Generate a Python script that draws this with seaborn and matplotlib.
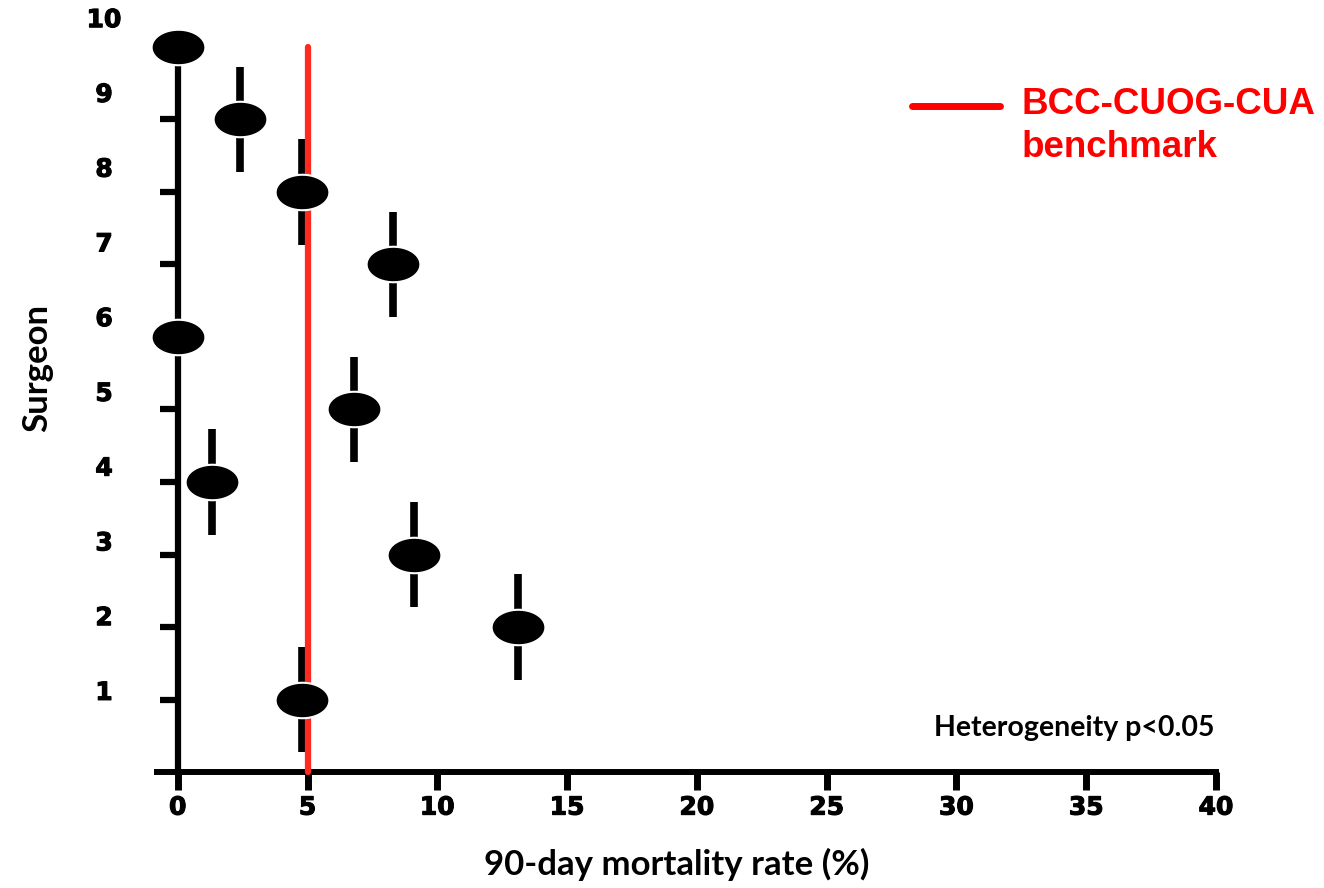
import numpy as np
import pandas as pd
import matplotlib
matplotlib.use("Agg")
import matplotlib.pyplot as plt
from matplotlib.path import Path
from matplotlib.lines import Line2D
import matplotlib.transforms as mtransforms
import matplotlib.patheffects as pe
import seaborn as sns

# Surgeon-level 90-day mortality with interval bars
surgeons = [10, 9, 8, 7, 6, 5, 4, 3, 2, 1]
mortality = [0.0, 2.4, 4.8, 8.3, 0.0, 6.8, 1.3, 9.1, 13.1, 4.8]
bar_half = [0.0, 0.73, 0.73, 0.73, 0.0, 0.73, 0.73, 0.73, 0.73, 0.73]
benchmark = 5.0
x_ticks = [0, 5, 10, 15, 20, 25, 30, 35, 40]
y_ticks = [1, 2, 3, 4, 5, 6, 7, 8, 9, 10]

df = pd.DataFrame({"surgeon": surgeons, "mortality": mortality, "half": bar_half})

sns.set_style("white")
plt.rcParams["font.family"] = ["DejaVu Sans"]
plt.rcParams["text.color"] = "black"
plt.rcParams["axes.labelcolor"] = "black"

fig = plt.figure(figsize=(13.24, 8.88), dpi=100)
ax = fig.add_axes([157 / 1324, 116 / 888, 1059 / 1324, 725 / 888])

# vertical interval bars behind the markers
ax.vlines(df["mortality"], df["surgeon"] - df["half"], df["surgeon"] + df["half"],
          colors="black", linewidth=5.5, capstyle="butt", zorder=2)

# benchmark line
ax.axvline(benchmark, ymin=0, ymax=1, color="#ff2a1f", linewidth=4.5,
           solid_capstyle="round", zorder=3, clip_on=False)

# wide elliptical markers
t = np.linspace(0, 2 * np.pi, 80)
ellipse = Path(np.column_stack([np.cos(t), 0.66 * np.sin(t)]), closed=True)
sns.scatterplot(data=df, x="mortality", y="surgeon", marker=ellipse, s=1500,
                color="black", edgecolor="white", linewidth=1.5, zorder=4,
                ax=ax, clip_on=False, legend=False)

ax.set_xlim(-0.8, 40)
ax.set_ylim(0, 10)

for side in ("top", "right"):
    ax.spines[side].set_visible(False)
ax.spines["left"].set_position(("data", 0))
ax.spines["left"].set_linewidth(4.5)
ax.spines["bottom"].set_linewidth(4.3)
ax.spines["left"].set_color("black")
ax.spines["bottom"].set_color("black")

heavy = [pe.withStroke(linewidth=0.8, foreground="black")]

ax.set_xticks(x_ticks)
ax.set_xticklabels([str(v) for v in x_ticks], fontsize=18, fontweight="bold",
                   family="DejaVu Sans", path_effects=heavy)
ax.tick_params(axis="x", bottom=True, direction="out", length=13, width=5,
               pad=4, colors="black")
ax.set_yticks(y_ticks)
ax.set_yticklabels([])
ax.tick_params(axis="y", left=True, direction="out", length=13, width=4.5,
               colors="black")

# y tick labels, spaced slightly wider than the ticks
ytrans = mtransforms.blended_transform_factory(ax.transAxes, ax.transData)
for k in y_ticks:
    ax.text(-0.05, k * 1.031 + 0.06, str(k), transform=ytrans, ha="center",
            va="center", fontsize=18, fontweight="bold", family="DejaVu Sans",
            color="black", clip_on=False, path_effects=heavy)

ax.set_xlabel("90-day mortality rate (%)", fontsize=25, fontweight="bold",
              family="Lato", color="black")
ax.xaxis.set_label_coords(0.491, -0.105)
ax.set_ylabel("Surgeon", fontsize=25, fontweight="bold", family="Lato",
              color="black")
ax.yaxis.set_label_coords(-0.098, 0.557)

# benchmark key
ax.add_line(Line2D([0.713, 0.796], [0.9186, 0.9186], transform=ax.transAxes,
                   color="red", linewidth=5, clip_on=False))
ax.text(0.8168, 0.921, "BCC-CUOG-CUA", transform=ax.transAxes, color="red",
        fontsize=26.5, fontweight="bold", family="Liberation Sans",
        ha="left", va="center")
ax.text(0.8168, 0.862, "benchmark", transform=ax.transAxes, color="red",
        fontsize=26.5, fontweight="bold", family="Liberation Sans",
        ha="left", va="center")

ax.text(0.999, 0.0607, "Heterogeneity p<0.05", transform=ax.transAxes,
        fontsize=20.5, fontweight="bold", family="Lato", ha="right",
        va="center", color="black")

fig.savefig("out.png", dpi=100, facecolor="white")
